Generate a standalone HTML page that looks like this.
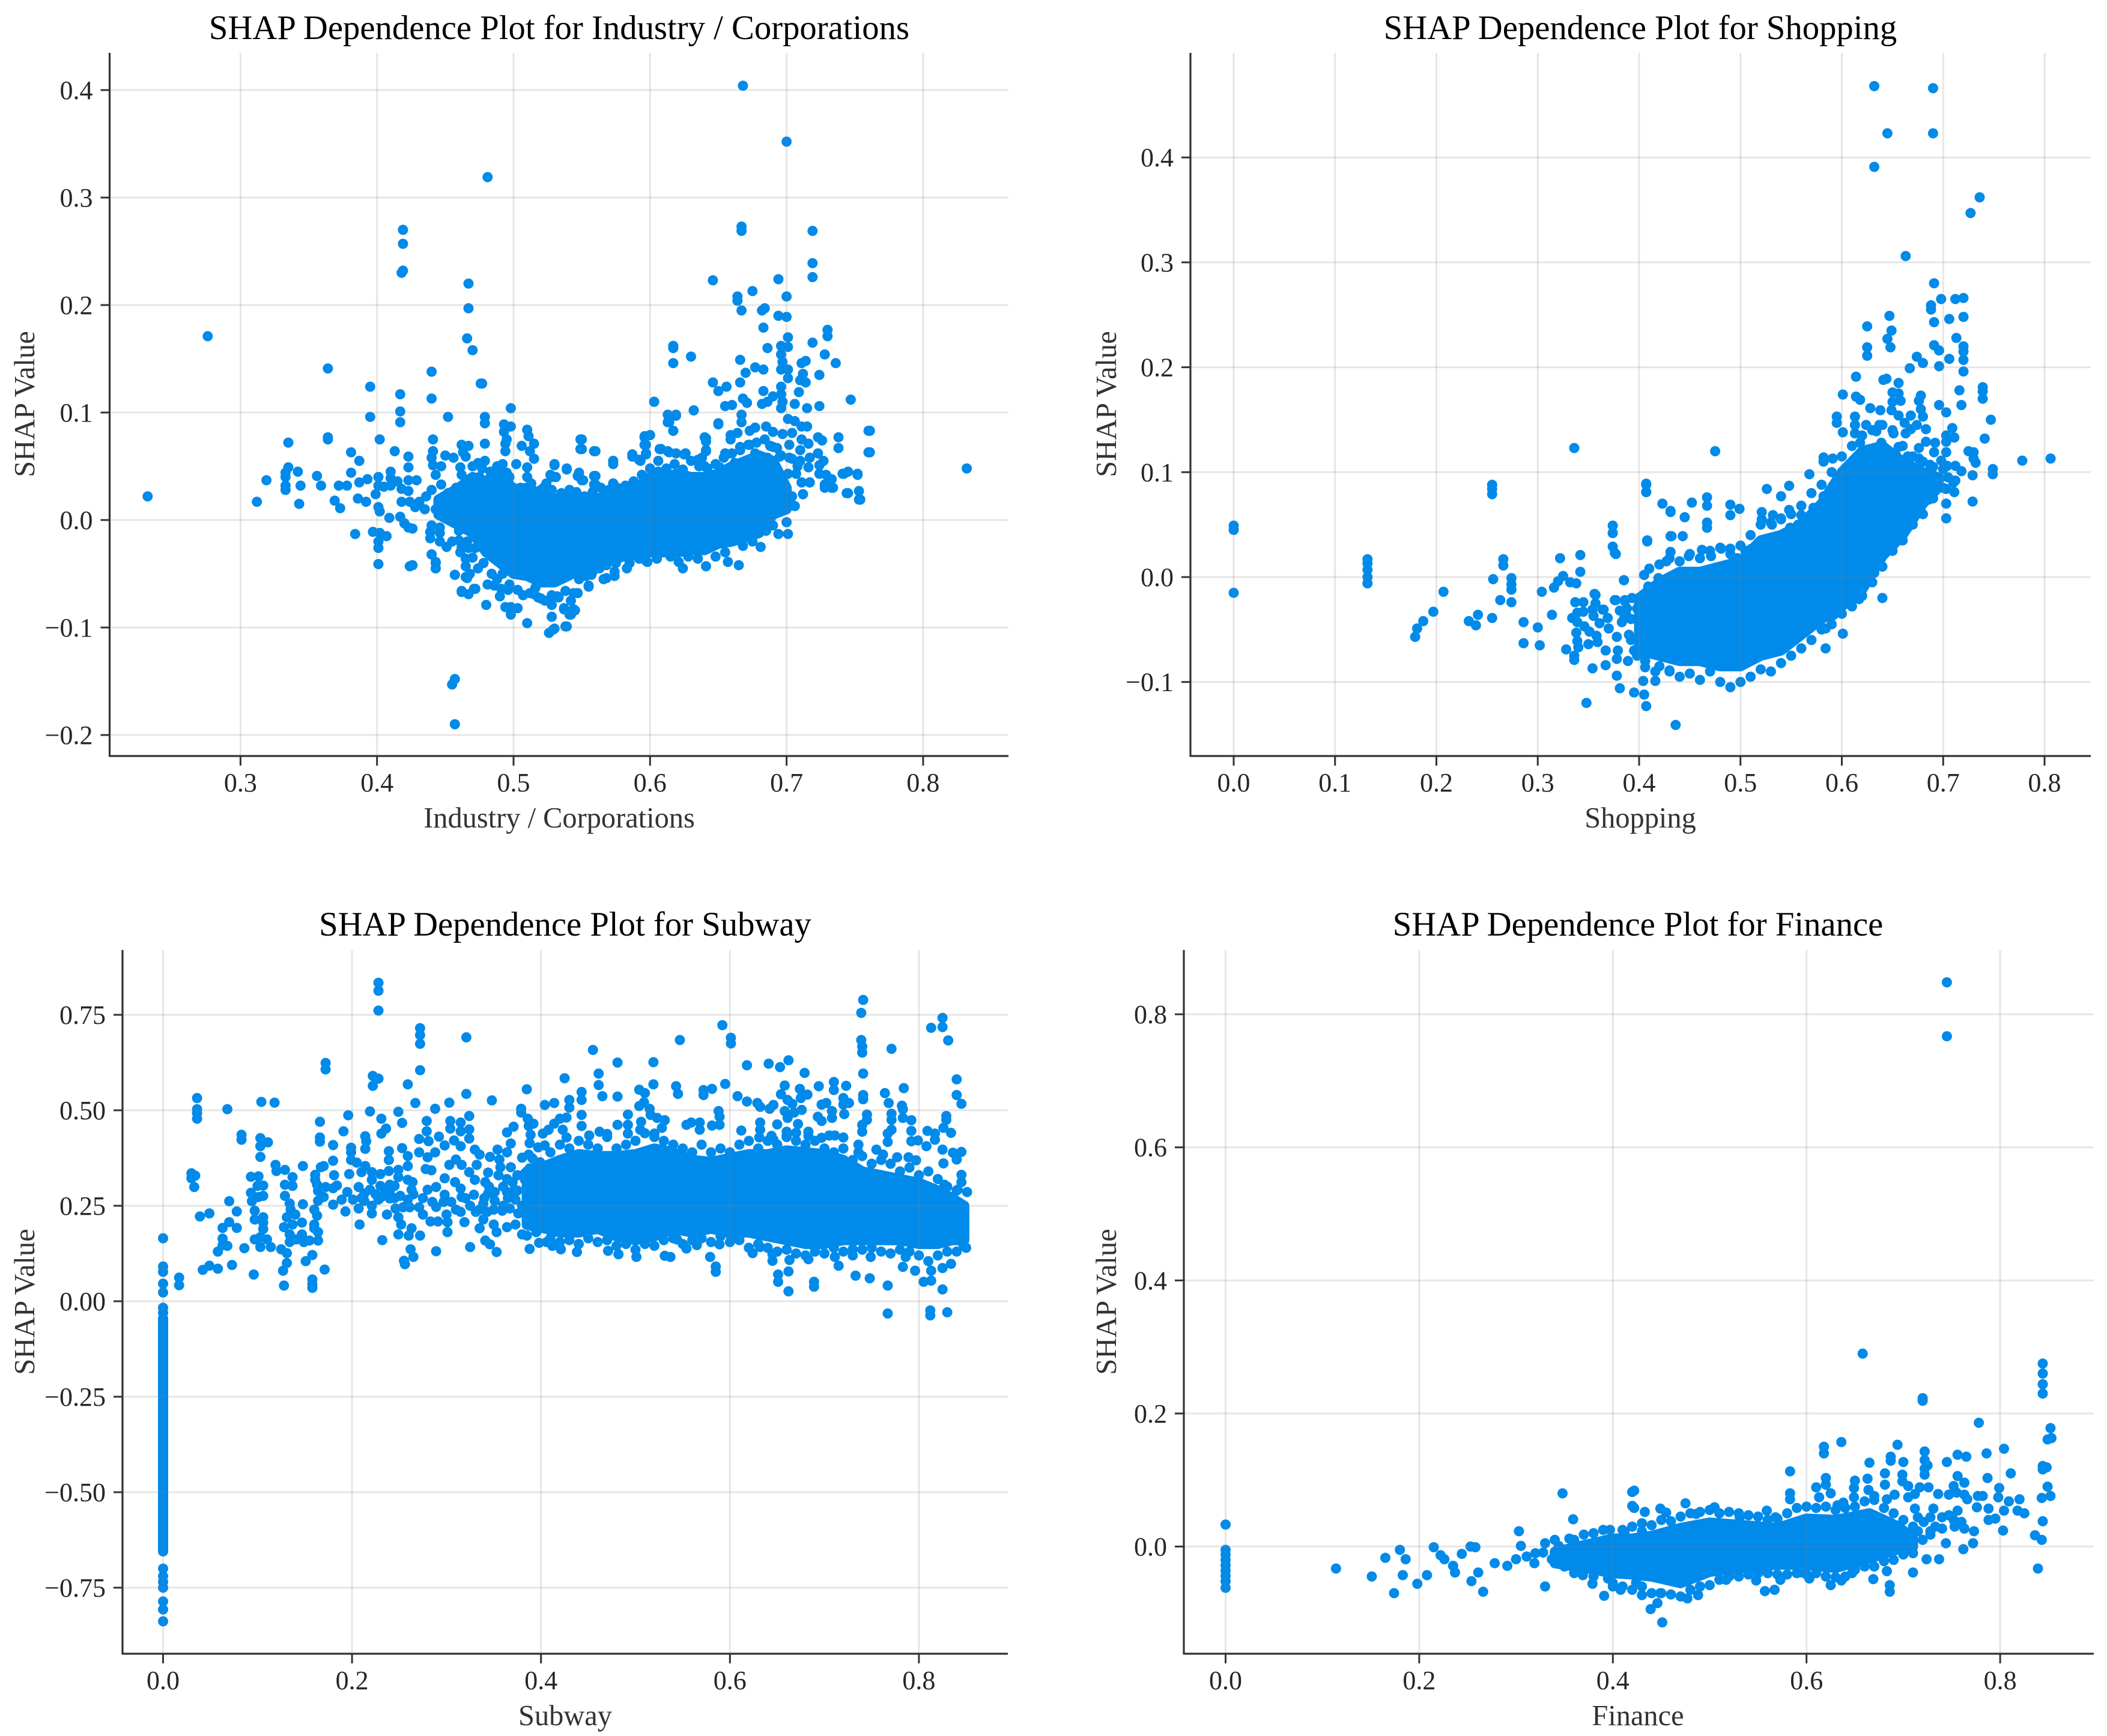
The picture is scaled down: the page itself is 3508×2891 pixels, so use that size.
<!DOCTYPE html>
<html lang="en">
<head>
<meta charset="utf-8">
<title>SHAP Dependence Plots</title>
<style>
html,body{margin:0;padding:0;background:#fff;}
body{width:3508px;height:2891px;overflow:hidden;}
svg{display:block;font-family:"Liberation Serif","Times New Roman",serif;}
.title{font-size:56.7px;fill:#000;text-anchor:middle;}
.axis-label{font-size:48.4px;fill:#333;text-anchor:middle;}
.tick-label{font-size:44px;fill:#262626;}
</style>
</head>
<body>
<svg id="figure" xmlns="http://www.w3.org/2000/svg" width="3508" height="2891" viewBox="0 0 3508 2891">
<rect x="0" y="0" width="3508" height="2891" fill="#fff"/>
<g id="panel-industry">
<text class="title" x="931" y="65">SHAP Dependence Plot for Industry / Corporations</text>
<text class="axis-label" x="931" y="1378">Industry / Corporations</text>
<text class="axis-label" transform="translate(57,673) rotate(-90)">SHAP Value</text>
</g>
<g id="panel-shopping">
<text class="title" x="2731" y="65">SHAP Dependence Plot for Shopping</text>
<text class="axis-label" x="2731" y="1378">Shopping</text>
<text class="axis-label" transform="translate(1858,673) rotate(-90)">SHAP Value</text>
</g>
<g id="panel-subway">
<text class="title" x="941" y="1558">SHAP Dependence Plot for Subway</text>
<text class="axis-label" x="941" y="2873">Subway</text>
<text class="axis-label" transform="translate(57,2168) rotate(-90)">SHAP Value</text>
</g>
<g id="panel-finance">
<text class="title" x="2727" y="1558">SHAP Dependence Plot for Finance</text>
<text class="axis-label" x="2727" y="2873">Finance</text>
<text class="axis-label" transform="translate(1858,2168) rotate(-90)">SHAP Value</text>
</g>
</svg>
<script>
// Tick values and labels
const industryXTicks=[.3,.4,.5,.6,.7,.8];
const industryXLabels=["0.3","0.4","0.5","0.6","0.7","0.8"];
const industryYTicks=[.4,.3,.2,.1,0,-.1,-.2];
const industryYLabels=["0.4","0.3","0.2","0.1","0.0","\u22120.1","\u22120.2"];
const shoppingXTicks=[0,.1,.2,.3,.4,.5,.6,.7,.8];
const shoppingXLabels=["0.0","0.1","0.2","0.3","0.4","0.5","0.6","0.7","0.8"];
const shoppingYTicks=[.4,.3,.2,.1,0,-.1];
const shoppingYLabels=["0.4","0.3","0.2","0.1","0.0","\u22120.1"];
const subwayXTicks=[0,.2,.4,.6,.8];
const subwayXLabels=["0.0","0.2","0.4","0.6","0.8"];
const subwayYTicks=[.75,.5,.25,0,-.25,-.5,-.75];
const subwayYLabels=["0.75","0.50","0.25","0.00","\u22120.25","\u22120.50","\u22120.75"];
const financeXTicks=[0,.2,.4,.6,.8];
const financeXLabels=["0.0","0.2","0.4","0.6","0.8"];
const financeYTicks=[.8,.6,.4,.2,0];
const financeYLabels=["0.8","0.6","0.4","0.2","0.0"];

// Dense overplotted core of each scatter, read as an envelope: feature value, upper SHAP, lower SHAP
const industryCoreX=[.445,.46,.47,.48,.49,.50,.51,.52,.53,.54,.55,.56,.57,.58,.59,.60,.61,.62,.63,.64,.65,.66,.67,.68,.69,.70];
const industryCoreHigh=[.019,.030,.040,.036,.045,.028,.030,.024,.020,.020,.017,.020,.022,.024,.030,.040,.040,.043,.040,.040,.043,.050,.055,.060,.055,.030];
const industryCoreLow=[.005,-.005,-.012,-.030,-.040,-.050,-.052,-.058,-.058,-.052,-.045,-.040,-.038,-.034,-.032,-.030,-.030,-.030,-.028,-.028,-.022,-.020,-.016,-.012,.005,.010];
const shoppingCoreX=[.40,.42,.44,.46,.48,.50,.52,.54,.56,.58,.60,.62,.64,.66,.68,.695];
const shoppingCoreHigh=[-.02,-.005,.005,.005,.01,.015,.035,.04,.05,.07,.10,.12,.125,.11,.10,.095];
const shoppingCoreLow=[-.07,-.075,-.08,-.08,-.085,-.085,-.075,-.07,-.055,-.04,-.028,-.012,.02,.04,.07,.085];
const subwayCoreX=[.385,.395,.405,.42,.44,.46,.48,.50,.52,.54,.56,.58,.60,.62,.64,.66,.68,.70,.72,.74,.76,.78,.80,.82,.835,.848];
const subwayCoreHigh=[.34,.35,.355,.37,.385,.38,.38,.385,.40,.39,.37,.365,.375,.385,.385,.395,.39,.385,.37,.34,.33,.32,.31,.29,.27,.25];
const subwayCoreLow=[.20,.195,.19,.18,.18,.19,.17,.16,.17,.19,.18,.19,.18,.18,.17,.16,.15,.15,.16,.16,.16,.16,.15,.15,.16,.16];
const subwayZeroColumnX=[0,0];
const subwayZeroColumnHigh=[-.045,-.045];
const subwayZeroColumnLow=[-.655,-.655];
const financeCoreX=[.34,.37,.40,.42,.44,.47,.50,.535,.57,.60,.63,.665,.695,.71];
const financeCoreHigh=[-.008,.002,.012,.012,.016,.028,.036,.032,.028,.042,.04,.05,.03,.012];
const financeCoreLow=[-.025,-.032,-.04,-.042,-.045,-.055,-.038,-.032,-.027,-.028,-.032,-.018,-.004,0];

// Individually visible points, as feature value, SHAP value, feature value, SHAP value ...
const industryPoints=[
.467,.220,.467,.197,.466,.169,.470,.158,.418,.230,.364,.141,.440,.138,.395,.124,.476,.127,.417,.117,.440,.113,.417,.101,.417,.091,.395,.096,.452,.096,.498,.104,.479,.096,.479,.090,.493,.089,.498,.087,.510,.084,.511,.078,.493,.082,.495,.075,.494,.071,.494,.064,.515,.071,.506,.069,.512,.064,.515,.057,.364,.077,.364,.075,.335,.072,.402,.075,.441,.075,.462,.070,.467,.069,.479,.071,.381,.063,.413,.064,.441,.064,.440,.058,.441,.051,.423,.059,.387,.055,.450,.060,.456,.058,.463,.063,.465,.059,.423,.049,.447,.050,.443,.042,.474,.053,.479,.055,.477,.048,.461,.049,.502,.052,.510,.049,.530,.052,.539,.048,.550,.075,.550,.066,.560,.064,.573,.055,.573,.052,.548,.044,.551,.037,.560,.041,.560,.033,.527,.042,.531,.040,.524,.034,.573,.034,.587,.061,.603,.110,.600,.079,.596,.077,.596,.070,.597,.061,.592,.056,.607,.066,
.319,.037,.335,.049,.333,.044,.333,.040,.342,.045,.356,.041,.333,.032,.333,.028,.344,.032,.359,.032,.312,.017,.343,.015,.372,.032,.378,.032,.381,.044,.387,.035,.393,.038,.401,.040,.401,.032,.405,.031,.410,.045,.410,.039,.410,.032,.415,.036,.399,.024,.369,.018,.373,.011,.386,.020,.392,.017,.401,.012,.402,.008,.409,.002,.418,.029,.423,.037,.429,.037,.423,.027,.418,.017,.424,.017,.417,.003,.420,-.003,.423,-.007,.426,-.008,.384,-.013,.397,-.011,.402,-.012,.407,-.015,.401,-.020,.401,-.026,.401,-.041,.424,-.043,.426,-.042,.440,-.032,.440,-.005,.439,-.011,.439,-.017,.446,-.007,.446,-.012,.446,-.020,.451,-.025,.443,-.040,.443,-.045,.457,-.051,.460,-.010,.460,-.019,.462,-.025,.467,-.026,.472,-.026,.465,-.036,.465,-.043,.468,-.050,.465,-.053,.462,-.067,.467,-.069,.471,-.064,.481,-.060,.486,-.061,.491,-.064,.496,-.065,.490,-.071,.480,-.079,.494,-.081,.498,-.081,.503,-.082,.498,-.088,.510,-.096,.528,-.079,.528,-.090,.526,-.105,.529,-.102,.539,-.099,.537,-.083,.545,-.084,.542,-.088,.520,-.073,.515,-.069,.532,-.071,.542,-.075,.516,-.063,.555,-.061,.547,-.068,.546,-.049,.557,-.051,.566,-.055,.574,-.052,.583,-.045,.598,-.039,
.668,.404,.700,.352,.667,.273,.667,.269,.719,.269,.719,.239,.719,.226,.646,.223,.694,.224,.675,.213,.664,.208,.664,.204,.700,.208,.667,.195,.684,.197,.682,.195,.694,.190,.700,.189,.683,.179,.730,.177,.730,.171,.701,.170,.719,.165,.617,.162,.617,.160,.630,.152,.617,.146,.686,.160,.696,.162,.701,.161,.696,.154,.697,.147,.728,.154,.736,.146,.666,.149,.677,.142,.683,.140,.670,.137,.696,.140,.701,.140,.701,.132,.711,.146,.714,.148,.712,.136,.710,.130,.714,.128,.724,.135,.646,.128,.650,.120,.656,.124,.666,.128,.683,.120,.696,.124,.696,.117,.697,.110,.696,.104,.709,.119,.690,.115,.686,.110,.682,.108,.706,.108,.715,.104,.724,.106,.747,.112,.668,.113,.671,.109,.655,.106,.660,.107,.603,.110,.613,.098,.619,.098,.613,.091,.632,.102,.617,.083,.667,.098,.667,.091,.650,.089,.701,.094,.706,.092,.711,.087,.715,.087,.761,.083,.738,.077,.738,.067,.761,.063,.832,.048,.596,.077,.600,.079,.596,.070,.608,.066,.613,.064,.619,.062,.626,.062,.640,.077,.641,.073,.641,.064,.656,.061,.638,.058,.597,.062,.673,.083,.685,.087,.659,.079,.664,.081,.659,.075,.677,.086,.690,.082,.697,.080,.673,.070,.666,.065,.677,.062,.688,.069,.693,.067,.695,.059,.711,.075,.716,.071,.723,.077,.726,.074,.704,.081,.702,.070,.710,.065,.704,.057,.710,.055,.717,.058,.723,.062,.727,.055,.724,.051,.716,.049,.657,.046,.662,.053,.651,.049,.670,.053,.679,.057,.701,.043,.707,.043,.724,.043,.729,.042,.733,.038,.741,.043,.745,.045,.752,.043,.711,.035,.717,.035,.728,.033,.733,.030,.712,.024,.704,.022,.744,.025,.753,.027,.753,.019,.706,.013,.695,.013,.587,.061,.593,.055,.606,.055,.640,.050,
.694,-.013,.701,-.013,.700,-.002,.706,.013,.712,.024,.711,.035,.717,.035,.728,.030,.734,.030,.745,.025,.754,.019,.742,.043,.752,.042,.760,.083,.760,.063,.665,-.042,.657,-.039,.681,-.025,.641,-.043,.624,-.045,.621,-.039,.597,-.038,.538,-.099,.530,-.101,.528,-.090,.544,-.083,.537,-.082,.541,-.088,.472,-.064,.462,-.066,.457,-.051,.466,-.054,.465,-.036,.443,-.045,.443,-.039,.440,-.032,.457,-.190,.457,-.148,.455,-.153,.477,.127,.555,-.062,.568,-.054,.574,-.048,.549,.075,.549,.066,.559,.064,.573,.055,.587,.059,.592,.056,.596,.078,.597,.070,.608,.066,.614,.063,.625,.061,.617,.083,.614,.097,.619,.097,.614,.091,.632,.102,.650,.090,.641,.076,.641,.065,.655,.062,.635,.056,.530,.051,.539,.047,.547,.041,.550,.037,.559,.041,.559,.033,.573,.034,.524,.033,.528,.040,.481,.319,.276,.171,.232,.022,.419,.270,.419,.257,.419,.232,.500,.030,.520,.028,.540,.026
];
const industryEdgePoints=[
.462,.042,.465,.035,.470,.050,.475,.040,.468,.028,.458,.030,.452,.025,.447,.033,.440,.028,.436,.022,.431,.017,.428,.012,.435,.010,.443,.010,.483,.045,.488,.050,.492,.052,.495,.044,.497,.040,.485,.035,.505,.030,.510,.040,.513,.034,.516,.026,.522,.030,.528,.028,.535,.025,.541,.028,.546,.026,.552,.022,.558,.026,.564,.030,.570,.028,.576,.030,.582,.032,.588,.036,.594,.042,.600,.048,.606,.045,.612,.048,.618,.052,.624,.047,.630,.055,.636,.050,.642,.048,.648,.052,.654,.058,.660,.062,.666,.068,.672,.070,.678,.072,.684,.075,.690,.068,.696,.060,.702,.058,.708,.050,.686,.058,.694,.040,.698,.030,.702,.020,
.455,-.02,.461,-.03,.466,-.02,.470,-.035,.474,-.045,.478,-.04,.484,-.05,.488,-.055,.492,-.05,.497,-.06,.503,-.065,.507,-.07,.512,-.068,.518,-.072,.523,-.075,.528,-.07,.533,-.072,.538,-.066,.544,-.068,.548,-.055,.553,-.052,.558,-.048,.563,-.045,.568,-.042,.575,-.04,.585,-.04,.592,-.036,.605,-.036,.615,-.034,.628,-.034,.635,-.036,.648,-.034,.655,-.03,.668,-.024,.675,-.02,.685,-.01,.69,-.005
];
const shoppingPoints=[
.632,.468,.690,.466,.645,.423,.690,.423,.632,.391,.736,.362,.727,.347,.663,.306,.691,.280,.698,.265,.712,.265,.720,.266,.688,.259,.688,.255,.647,.249,.706,.246,.720,.248,.691,.243,.625,.239,.649,.235,.645,.227,.648,.219,.713,.228,.625,.219,.625,.211,.691,.221,.696,.216,.720,.220,.720,.215,.720,.207,.720,.196,.706,.208,.674,.210,.680,.204,.667,.199,.696,.201,.614,.191,.641,.188,.644,.189,.656,.185,.739,.181,.739,.177,.739,.170,.716,.178,.601,.174,.614,.172,.618,.169,.650,.176,.656,.175,.650,.167,.658,.168,.678,.173,.676,.168,.678,.160,.696,.164,.718,.164,.703,.157,.628,.161,.638,.159,.649,.159,.656,.154,.747,.150,.595,.153,.595,.147,.613,.153,.613,.145,.613,.137,.601,.138,.624,.145,.637,.145,.634,.139,.668,.154,.662,.147,.668,.141,.674,.145,.680,.153,.683,.141,.709,.142,.703,.135,.711,.133,.703,.129,.741,.132,.651,.137,.663,.137,.683,.129,.692,.128,.618,.128,.639,.128,.653,.117,.656,.124,.676,.123,.691,.119,.703,.119,.676,.113,.725,.120,.730,.119,.730,.113,.732,.109,.778,.111,.806,.113,.582,.114,.591,.113,.582,.110,.475,.120,.698,.111,.687,.107,.665,.115,.665,.110,.704,.106,.712,.106,.718,.101,.749,.103,.749,.098,.729,.097,.697,.094,.712,.092,.568,.098,.703,.084,.711,.081,.686,.074,.675,.073,.703,.070,.729,.072,.703,.056,.407,.089,.407,.081,.423,.070,.431,.063,.445,.057,.452,.071,.467,.076,.467,.068,.467,.052,.467,.047,.490,.069,.490,.059,.499,.065,.526,.084,.548,.087,.540,.077,.521,.062,.521,.055,.532,.059,.540,.056,.531,.050,.548,.064,.560,.068,.560,.059,.572,.066,.557,.050,.549,.047,.582,.077,.586,.066,.374,.049,.374,.042,.374,.029,.376,.023,.408,.035,.431,.039,.443,.039,.431,.024,.449,.020,.462,.026,.481,.027,.490,.027,.471,.020,.497,.018,.505,.025,.511,.027,.427,.015,.385,-.003,.405,.002,.419,-.001,.409,-.009,.376,-.022,.386,-.023,.356,-.016,.365,-.031,.632,.004,.622,-.005,.617,-.021,.640,-.020,.592,-.036,.584,-.049,.601,-.054,.584,-.068,.568,-.042,
0,.049,0,.045,0,-.015,.132,.017,.132,.013,.132,.007,.132,0,.132,-.006,.255,.088,.255,.084,.255,.079,.336,.123,.407,.088,.407,.081,.431,.062,.374,.042,.377,.022,.408,.034,.432,.039,.266,.017,.266,.011,.322,.018,.342,.021,.342,.005,.256,-.002,.274,-.001,.274,-.007,.274,-.012,.325,.001,.320,-.004,.316,-.010,.332,-.005,.338,-.006,.385,-.003,.207,-.014,.197,-.033,.187,-.042,.181,-.049,.179,-.057,.263,-.022,.274,-.024,.255,-.039,.241,-.036,.232,-.042,.239,-.046,.304,-.014,.314,-.036,.286,-.043,.300,-.048,.286,-.063,.302,-.065,.328,-.069,.336,-.075,.336,-.079,.354,-.087,.348,-.120,.337,-.024,.345,-.024,.339,-.034,.345,-.033,.334,-.039,.339,-.043,.346,-.047,.338,-.053,.351,-.052,.339,-.061,.340,-.067,.350,-.064,.357,-.017,.357,-.025,.354,-.031,.364,-.031,.355,-.037,.369,-.039,.361,-.044,.370,-.049,.358,-.056,.359,-.062,.377,-.022,.386,-.022,.381,-.032,.387,-.035,.383,-.043,.378,-.057,.367,-.070,.379,-.070,.367,-.084,.378,-.078,.378,-.094,.381,-.106,.389,-.080,.395,-.110,.405,-.112,.404,-.099,.407,-.123,.436,-.141,.406,-.080,.406,-.086,.416,-.099,.416,-.090,.430,-.089,.392,-.040,.392,-.060,.398,-.030,.398,-.075
];
const shoppingEdgePoints=[
.385,-.04,.39,-.055,.393,-.02,.395,-.07,.388,-.03,
.42,-.085,.43,-.09,.44,-.095,.45,-.092,.46,-.098,.47,-.09,.48,-.10,.49,-.105,.50,-.10,.51,-.095,.52,-.088,.53,-.09,.54,-.082,.55,-.075,.56,-.068,.57,-.06,.58,-.05,.59,-.045,.60,-.035,.61,-.028,.62,-.018,.63,-.005,.64,.01,.65,.025,.66,.035,.67,.05,.68,.06,.69,.075,
.41,.008,.42,.012,.43,.018,.44,.015,.45,.022,.46,.018,.47,.025,.48,.028,.49,.022,.50,.03,.51,.04,.52,.05,.53,.052,.54,.055,.55,.06,.56,.068,.57,.08,.58,.088,.59,.10,.60,.115,.61,.125,.62,.135,.63,.14,.64,.145,.65,.14,.66,.125,.67,.115,.68,.11,.69,.105,.70,.103,.705,.095,.71,.09,.70,.085
];
const subwayPoints=[
.228,.834,.228,.813,.228,.761,.272,.715,.272,.697,.272,.674,.272,.605,.321,.691,.172,.624,.172,.607,.222,.590,.228,.583,.222,.564,.259,.568,.321,.543,.348,.526,.385,.555,.425,.584,.036,.532,.036,.503,.036,.493,.036,.478,.068,.503,.104,.522,.118,.520,.083,.436,.083,.423,.103,.427,.103,.406,.111,.416,.103,.378,.030,.335,.030,.322,.034,.329,.033,.299,.070,.262,.039,.222,.049,.230,.078,.235,.078,.192,.063,.192,.070,.207,.063,.164,.063,.147,.068,.145,.058,.130,.086,.139,.042,.082,.049,.093,.058,.085,.073,.095,.017,.062,.017,.042,.096,.070,0,.165,0,.091,0,.077,0,.046,0,.023,.119,.357,.120,.341,.129,.344,.137,.325,.129,.305,.137,.302,.093,.326,.101,.327,.100,.302,.106,.303,.093,.284,.094,.262,.101,.273,.106,.276,.097,.237,.097,.214,.106,.220,.106,.206,.106,.189,.097,.162,.103,.168,.110,.162,.103,.142,.114,.142,.129,.276,.134,.256,.135,.240,.140,.227,.131,.220,.137,.201,.128,.194,.134,.175,.134,.155,.131,.126,.131,.100,.127,.080,.128,.041,.125,.136,.148,.254,.148,.354,.147,.206,.147,.175,.141,.162,.149,.155,.155,.159,.151,.105,.158,.121,.158,.057,.158,.044,.158,.035,.171,.083,.160,.240,.163,.224,.160,.201,.160,.191,.164,.181,.164,.159,.161,.331,.161,.318,.167,.351,.170,.354,.163,.305,.164,.289,.172,.299,.180,.296,.164,.263,.170,.273,.180,.253,.181,.330,.180,.368,.180,.409,.166,.470,.166,.429,.166,.418,.191,.445,.196,.487,.199,.402,.199,.390,.199,.370,.205,.363,.197,.333,.184,.303,.193,.235,.189,.266,.195,.286,.207,.299,.213,.282,.207,.243,.213,.263,.214,.432,.215,.419,.214,.399,.214,.354,.210,.338,.221,.338,.221,.318,.219,.497,.231,.478,.236,.452,.231,.439,.249,.496,.253,.467,.267,.519,.288,.504,.303,.520,.279,.472,.279,.445,.271,.425,.281,.419,.292,.431,.298,.408,.304,.472,.304,.452,.315,.468,.315,.445,.324,.485,.324,.450,.324,.426,.308,.421,.315,.406,.253,.401,.259,.380,.239,.393,.239,.370,.239,.341,.259,.354,.271,.390,.280,.377,.288,.390,.249,.344,.249,.325,.278,.346,.284,.343,.230,.333,.221,.250,.221,.230,.208,.201,.232,.160,.259,.318,.264,.312,.263,.292,.240,.305,.245,.302,.240,.289,.230,.302,.231,.273,.240,.269,.251,.276,.259,.266,.237,.227,.246,.243,.254,.246,.261,.246,.271,.246,.275,.227,.249,.220,.252,.201,.263,.191,.249,.175,.260,.172,.272,.172,.262,.136,.265,.116,.255,.106,.256,.097,.289,.131,.325,.142,.353,.129,.388,.137,.283,.209,.291,.209,.301,.207,.301,.181,.300,.227,.280,.292,.289,.299,.298,.279,.289,.247,.297,.260,.303,.357,.310,.371,.316,.357,.324,.338,.330,.318,.332,.357,.330,.397,.335,.384,.298,.322,.309,.312,.315,.295,.316,.273,.341,.312,.344,.282,.329,.279,.351,.286,.351,.263,.339,.256,.344,.337,.346,.378,.356,.371,.357,.351,.368,.351,.364,.320,.370,.312,.364,.390,.368,.413,.364,.442,.371,.457,.354,.397,.379,.504,.379,.494,.386,.478,.387,.459,.392,.465,.389,.436,.388,.414,.397,.403,.404,.408,.404,.514,.414,.519,.380,.376,.387,.384,.391,.374,.399,.364,.388,.348,.383,.335,.383,.318,.400,.336,.364,.286,.371,.289,.373,.266,.389,.276,.395,.292,.319,.207,.315,.234,.335,.191,.339,.214,.331,.234,.343,.234,.350,.201,.353,.181,.341,.159,.346,.149,.364,.194,.373,.201,.367,.243,.376,.230,.385,.172,.380,.175,.398,.153,.406,.155,.412,.145,.421,.136,.386,.207,.395,.181,.383,.240,.395,.240,.408,.201,.411,.181,.402,.439,.408,.449,.414,.465,.420,.478,.427,.481,.423,.449,.427,.429,.430,.507,.430,.527,.335,.240,.350,.240,.359,.237,.219,.292,.228,.266,.201,.266,
.741,.789,.739,.755,.739,.684,.740,.667,.740,.651,.741,.596,.825,.742,.813,.716,.825,.718,.831,.683,.771,.661,.840,.581,.840,.540,.845,.517,.784,.558,.592,.723,.601,.690,.601,.675,.547,.684,.455,.658,.481,.625,.519,.626,.618,.618,.641,.622,.653,.613,.662,.631,.679,.598,.461,.596,.461,.566,.465,.537,.443,.548,.443,.527,.481,.536,.519,.568,.504,.554,.510,.545,.504,.511,.509,.521,.543,.563,.545,.543,.572,.553,.572,.540,.581,.556,.595,.569,.608,.537,.618,.523,.629,.519,.632,.509,.642,.504,.646,.514,.658,.565,.654,.542,.661,.527,.666,.517,.674,.556,.675,.532,.682,.541,.658,.498,.661,.480,.668,.494,.676,.501,.694,.563,.710,.574,.710,.553,.723,.564,.720,.532,.720,.515,.726,.519,.697,.515,.702,.519,.708,.498,.693,.483,.697,.472,.708,.480,.721,.490,.741,.540,.741,.529,.745,.489,.745,.475,.740,.462,.740,.444,.764,.545,.768,.519,.782,.512,.783,.503,.771,.491,.771,.475,.783,.480,.792,.474,.792,.446,.771,.449,.767,.439,.767,.417,.792,.419,.799,.421,.808,.406,.809,.446,.817,.439,.817,.423,.829,.485,.829,.475,.826,.454,.834,.441,.825,.397,.836,.389,.845,.391,.840,.371,.826,.361,.845,.331,.845,.312,.841,.292,.851,.286,.827,.305,.492,.489,.481,.462,.492,.462,.492,.439,.506,.470,.505,.449,.520,.439,.523,.480,.531,.474,.528,.454,.515,.504,.516,.488,.443,.488,.443,.459,.451,.434,.462,.444,.470,.438,.554,.462,.559,.468,.568,.468,.568,.449,.581,.460,.589,.462,.588,.498,.589,.483,.612,.447,.632,.468,.632,.449,.631,.429,.650,.463,.660,.444,.660,.433,.672,.464,.670,.441,.683,.444,.683,.433,.644,.433,.646,.423,.697,.428,.705,.434,.711,.434,.720,.429,.736,.410,.736,.390,.755,.397,.762,.384,.777,.377,.789,.377,.797,.369,.438,.129,.471,.132,.482,.123,.501,.116,.531,.119,.537,.116,.554,.138,.565,.147,.544,.162,.579,.116,.585,.091,.585,.077,.601,.170,.589,.149,.624,.126,.632,.142,.645,.106,.645,.123,.651,.070,.651,.051,.662,.078,.662,.026,.663,.108,.683,.110,.689,.051,.689,.038,.715,.093,.711,.116,.733,.067,.748,.060,.767,.041,.767,-.032,.730,.136,.749,.116,.783,.090,.786,.116,.796,.080,.805,.051,.813,.054,.813,.080,.812,-.024,.812,-.037,.830,-.029,.825,.031,.825,.087,.834,.098,.847,.149,
0,-.017,0,-.03,0,-.70,0,-.72,0,-.735,0,-.75,0,-.786,0,-.807,0,-.838
];
const subwayEdgePoints=[
.41,.39,.42,.41,.43,.40,.44,.42,.45,.41,.46,.40,.47,.43,.48,.40,.49,.41,.50,.42,.51,.44,.52,.43,.53,.42,.54,.41,.55,.40,.56,.39,.57,.41,.58,.39,.59,.40,.60,.39,.61,.41,.62,.42,.63,.40,.64,.42,.65,.41,.66,.43,.67,.42,.68,.41,.69,.42,.70,.40,.71,.39,.72,.40,.73,.37,.74,.38,.75,.36,.76,.37,.77,.36,.78,.34,.79,.35,.80,.33,.81,.34,.82,.32,.83,.30,.84,.29,
.41,.165,.42,.155,.43,.16,.44,.15,.45,.165,.46,.155,.47,.16,.48,.145,.49,.15,.50,.135,.51,.15,.52,.145,.53,.16,.54,.165,.55,.15,.56,.16,.57,.165,.58,.155,.59,.17,.60,.155,.61,.16,.62,.14,.63,.15,.64,.14,.65,.13,.66,.135,.67,.125,.68,.12,.69,.13,.70,.125,.71,.14,.72,.13,.73,.12,.74,.135,.75,.14,.76,.13,.77,.125,.78,.135,.79,.13,.80,.12,.81,.105,.82,.12,.83,.13,.84,.13,.85,.14,
.21,.27,.225,.28,.235,.29,.245,.27,.265,.28,.275,.27,.285,.26,.305,.26,.31,.24,.32,.27,.325,.25,.34,.27,.36,.25,.365,.27,.375,.29,.38,.25,.385,.30,.375,.33,.36,.30,.345,.30,.355,.33
];
const financePoints=[
.720,.219,.720,.223,.844,.275,.844,.26,.844,.244,.844,.230,.778,.186,.852,.178,.849,.161,.853,.163,.636,.157,.618,.150,.618,.140,.694,.153,.804,.147,.786,.140,.722,.143,.756,.138,.765,.135,.687,.135,.687,.129,.745,.127,.700,.127,.665,.126,.722,.130,.725,.122,.722,.117,.722,.108,.583,.113,.844,.121,.848,.119,.844,.116,.811,.110,.787,.103,.681,.110,.699,.108,.756,.106,.663,.102,.620,.103,.650,.099,.681,.093,.610,.089,.620,.093,.625,.080,.613,.074,.583,.080,.583,.071,.699,.098,.705,.091,.717,.089,.726,.089,.763,.096,.752,.091,.736,.079,.849,.090,.843,.073,.852,.076,.799,.088,.782,.076,.798,.074,.777,.076,.820,.071,.809,.068,.664,.085,.670,.076,.649,.088,.649,.074,.632,.062,.638,.066,.691,.078,.683,.071,.705,.074,.712,.079,.747,.078,.763,.078,.755,.081,.776,.059,.766,.071,.788,.057,.804,.054,.818,.054,.825,.050,.795,.042,.788,.040,.844,.038,.803,.024,.836,.017,.843,.010,.839,-.033,.772,.005,.773,.023,.762,-.004,.744,.005,.737,-.019,.753,.030,.724,-.019,.710,-.039,.686,-.058,.686,-.068,.683,-.037,.669,-.049,.647,-.040,.625,-.058,.636,-.051,.603,-.048,.595,-.039,.567,-.065,.557,-.067,.573,-.050,.548,-.051,.517,-.050,.488,-.073,.477,-.078,.451,-.114,.439,-.094,.446,-.085,.449,-.070,.430,-.073,.424,-.054,.408,-.065,.559,.054,.568,.044,.475,.065,.420,.082,.420,.061,.433,.052,.449,.057,.455,.051,.505,.059,.486,.049,.531,.044,.412,.022,.430,.023,.731,.057,.733,.030,.740,.027,.752,.040,.756,.054,.760,.037,.747,.047,.763,.027,.740,.044,.728,.023,.715,.023,.720,.010,.721,.037,.712,.057,.728,.044,.715,.044,.728,.018,.745,.848,.745,.767,.658,.290,
0,.033,0,-.005,0,-.012,0,-.02,0,-.028,0,-.036,0,-.044,0,-.052,0,-.062,.114,-.033,.151,-.045,.165,-.017,.174,-.07,.180,-.005,.186,-.019,.183,-.043,.198,-.056,.208,-.043,.215,-.001,.222,-.013,.226,-.019,.235,-.029,.237,-.039,.244,-.011,.253,0,.258,-.001,.261,-.039,.266,-.068,.254,-.052,.278,-.025,.291,-.029,.303,.023,.305,.001,.300,-.019,.311,-.015,.319,-.025,.330,-.06,.328,-.009,.348,.08,.359,.041,.344,.001,.337,-.019,.379,-.019,.397,.025,.422,.084,.422,.058,.369,-.043,.391,-.074,.379,-.056,.400,-.06
];
const financeEdgePoints=[
.41,.025,.42,.03,.43,.035,.44,.032,.45,.04,.46,.038,.47,.045,.48,.05,.49,.052,.50,.055,.51,.05,.52,.052,.53,.05,.54,.047,.55,.045,.56,.04,.57,.042,.58,.05,.59,.058,.60,.06,.61,.058,.62,.06,.63,.055,.64,.058,.65,.06,.66,.068,.67,.07,.68,.058,.69,.05,.70,.04,.71,.03,
.36,-.04,.38,-.045,.40,-.055,.41,-.06,.42,-.065,.43,-.06,.44,-.07,.45,-.07,.46,-.072,.47,-.075,.48,-.065,.49,-.06,.50,-.058,.51,-.05,.52,-.045,.53,-.045,.54,-.042,.55,-.04,.56,-.04,.57,-.042,.58,-.042,.59,-.04,.60,-.042,.61,-.04,.62,-.045,.63,-.046,.64,-.045,.65,-.035,.66,-.03,.67,-.03,.68,-.022,.69,-.02,.70,-.012,.71,-.01,
.32,-.01,.33,.005,.34,.01,.35,-.03,.355,.012,.36,.01,.37,.018,.38,.02,.39,.025,.395,-.048
];

const svgNS='http://www.w3.org/2000/svg';
const markColor='#008aea';
const dotRadius=8.5;

function addLine(g,x1,y1,x2,y2,stroke,width,cap){
  const l=document.createElementNS(svgNS,'line');
  l.setAttribute('x1',x1);l.setAttribute('y1',y1);l.setAttribute('x2',x2);l.setAttribute('y2',y2);
  l.setAttribute('stroke',stroke);l.setAttribute('stroke-width',width);
  if(cap)l.setAttribute('stroke-linecap',cap);
  g.appendChild(l);
  return l;
}
function addCore(g,xs,highs,lows,sx,sy){
  let d='';
  xs.forEach((v,i)=>{d+=(i?'L':'M')+sx(v).toFixed(1)+' '+sy(highs[i]).toFixed(1);});
  for(let i=xs.length-1;i>=0;i--){d+='L'+sx(xs[i]).toFixed(1)+' '+sy(lows[i]).toFixed(1);}
  const p=document.createElementNS(svgNS,'path');
  p.setAttribute('d',d+'Z');
  p.setAttribute('fill',markColor);
  p.setAttribute('stroke',markColor);
  p.setAttribute('stroke-width',dotRadius*2);
  p.setAttribute('stroke-linejoin','round');
  
  
  g.appendChild(p);
}
function addText(g,x,y,str,anchor){
  const t=document.createElementNS(svgNS,'text');
  t.setAttribute('x',x);t.setAttribute('y',y);
  t.setAttribute('class','tick-label');
  t.setAttribute('text-anchor',anchor);
  t.textContent=str;
  g.appendChild(t);
  return t;
}
function drawPanel(o){
  const root=document.getElementById(o.id);
  const marks=document.createElementNS(svgNS,'g');
  
  
  root.appendChild(marks);
  o.cores.forEach(c=>addCore(marks,c[0],c[1],c[2],o.sx,o.sy));
  o.pointSets.forEach(points=>{
    for(let i=0;i+1<points.length;i+=2){
      const c=document.createElementNS(svgNS,'circle');
      c.setAttribute('cx',o.sx(points[i]).toFixed(1));
      c.setAttribute('cy',o.sy(points[i+1]).toFixed(1));
      c.setAttribute('r',dotRadius);
      c.setAttribute('fill',markColor);
      
      
      marks.appendChild(c);
    }
  });
  const grid=document.createElementNS(svgNS,'g');
  
  
  root.appendChild(grid);
  const axes=document.createElementNS(svgNS,'g');
  
  
  root.appendChild(axes);
  o.xTicks.forEach((v,i)=>{
    const x=o.sx(v);
    const gl=addLine(grid,x,o.top,x,o.bottom,'rgba(128,128,128,.2)',3);
    
    
    const tk=addLine(axes,x,o.bottom,x,o.bottom+16,'#333',3);
    
    
    const lb=addText(axes,x,o.bottom+59,o.xLabels[i],'middle');
    
    
  });
  o.yTicks.forEach((v,i)=>{
    const y=o.sy(v);
    const gl=addLine(grid,o.left,y,o.right,y,'rgba(128,128,128,.2)',3);
    
    
    const tk=addLine(axes,o.left-15,y,o.left,y,'#333',3);
    
    
    const lb=addText(axes,o.left-28,y+15,o.yLabels[i],'end');
    
    
  });
  const sl=addLine(axes,o.left,o.top,o.left,o.bottom+1.5,'#333',3.2);
  
  
  const sb=addLine(axes,o.left,o.bottom,o.right,o.bottom,'#333',3.2);
  
  
}
drawPanel({id:'panel-industry',left:182.5,right:1679,top:88,bottom:1259,
  sx:v=>855+(v-.5)*2273,sy:v=>866-1790*v,
  xTicks:industryXTicks,xLabels:industryXLabels,yTicks:industryYTicks,yLabels:industryYLabels,
  pointSets:[industryPoints,industryEdgePoints],cores:[[industryCoreX,industryCoreHigh,industryCoreLow]]});
drawPanel({id:'panel-shopping',left:1982,right:3481,top:88,bottom:1259,
  sx:v=>2054+v*1687.5,sy:v=>961-1747*v,
  xTicks:shoppingXTicks,xLabels:shoppingXLabels,yTicks:shoppingYTicks,yLabels:shoppingYLabels,
  pointSets:[shoppingPoints,shoppingEdgePoints],cores:[[shoppingCoreX,shoppingCoreHigh,shoppingCoreLow]]});
drawPanel({id:'panel-subway',left:204,right:1678,top:1582,bottom:2754,
  sx:v=>271.5+v*1573,sy:v=>2167-636*v,
  xTicks:subwayXTicks,xLabels:subwayXLabels,yTicks:subwayYTicks,yLabels:subwayYLabels,
  pointSets:[subwayPoints,subwayEdgePoints],cores:[[subwayCoreX,subwayCoreHigh,subwayCoreLow],[subwayZeroColumnX,subwayZeroColumnHigh,subwayZeroColumnLow]]});
drawPanel({id:'panel-finance',left:1971,right:3486,top:1582,bottom:2754,
  sx:v=>2040.5+v*1612,sy:v=>2575.5-1108*v,
  xTicks:financeXTicks,xLabels:financeXLabels,yTicks:financeYTicks,yLabels:financeYLabels,
  pointSets:[financePoints,financeEdgePoints],cores:[[financeCoreX,financeCoreHigh,financeCoreLow]]});
</script>
</body>
</html>
